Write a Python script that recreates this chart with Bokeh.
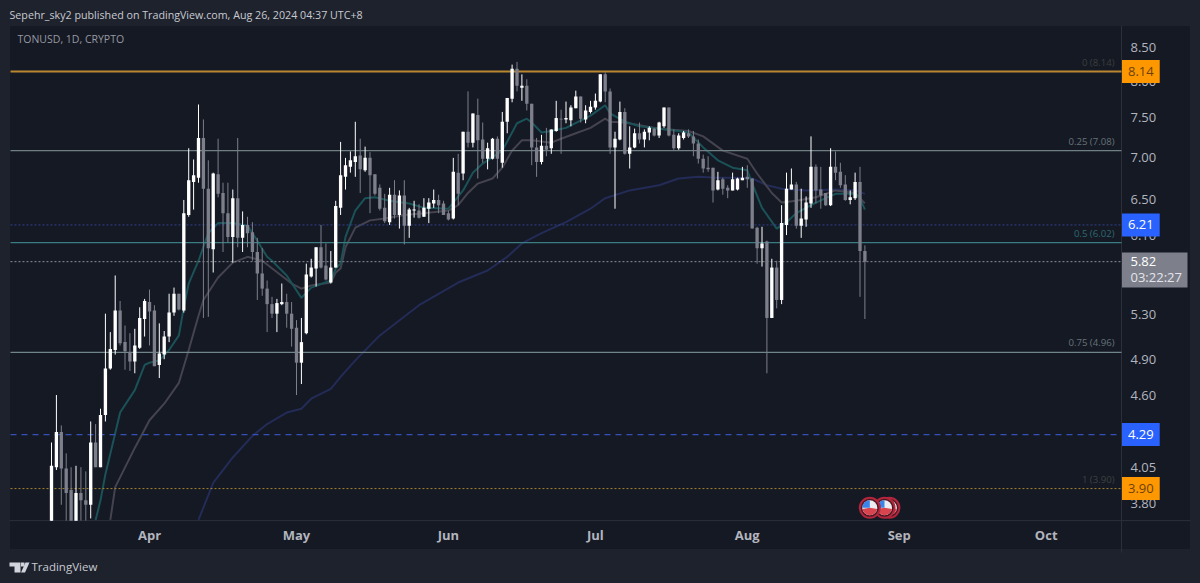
import math
import numpy as np
import pandas as pd
from bokeh.core.properties import value
from bokeh.plotting import figure
from bokeh.models import (BoxAnnotation, ColumnDataSource, FixedTicker, Label, PolyAnnotation, Range1d)
from bokeh.embed import file_html
from bokeh.resources import INLINE

FIRST_DAY = "2024-03-12"
opens = [3.62,4.05,4.31,4.04,3.89,3.62,3.87,3.82,3.79,4.23,4.05,4.44,4.82,4.98,5.34,5.05,4.96,4.88,5.00,5.26,
         5.42,5.34,4.85,4.94,5.10,5.32,5.50,5.34,6.32,6.70,6.75,7.24,6.62,5.95,6.79,6.57,6.34,6.08,6.51,6.07,
         6.21,6.13,5.92,5.70,5.55,5.40,5.31,5.40,5.42,5.31,5.18,4.87,5.13,5.67,5.75,5.97,5.78,5.61,5.76,6.40,
         6.76,6.88,6.94,7.02,6.84,6.99,6.79,6.63,6.40,6.24,6.55,6.32,6.54,6.20,6.37,6.37,6.30,6.39,6.45,6.49,
         6.45,6.34,6.28,6.81,6.80,7.32,7.18,7.54,7.22,6.98,6.98,7.23,6.93,7.45,7.76,8.18,7.91,7.94,7.69,7.12,
         6.94,7.14,7.11,7.33,7.49,7.48,7.47,7.63,7.79,7.48,7.58,7.64,7.72,8.10,7.86,7.12,7.22,7.58,7.04,7.12,
         7.30,7.22,7.31,7.36,7.27,7.39,7.64,7.28,7.11,7.24,7.30,7.26,7.17,6.98,6.87,6.87,6.61,6.73,6.63,6.60,
         6.61,6.72,6.76,6.74,6.18,5.96,6.03,5.27,5.76,5.44,6.21,6.61,6.67,6.20,6.27,6.45,6.88,6.61,6.57,6.43,
         6.88,6.82,6.67,6.49,6.51,6.70,5.93]
closes = [4.06,4.31,4.04,3.87,3.66,3.87,3.82,3.79,4.23,4.05,4.44,4.82,4.99,5.34,5.04,4.97,4.88,5.02,5.27,5.43,
          5.33,4.84,4.95,5.10,5.32,5.50,5.35,6.34,6.72,6.78,7.24,6.62,5.96,6.80,6.56,6.34,6.08,6.51,6.07,6.21,
          6.12,5.92,5.70,5.55,5.40,5.31,5.41,5.42,5.31,5.17,4.87,5.05,5.69,5.76,5.97,5.76,5.64,5.76,6.42,6.78,
          6.90,6.96,7.01,6.85,6.99,6.78,6.56,6.39,6.25,6.55,6.32,6.54,6.20,6.38,6.38,6.29,6.40,6.46,6.49,6.43,
          6.32,6.27,6.82,6.56,7.32,7.18,7.56,7.21,6.98,7.11,7.23,6.98,7.45,7.77,8.18,7.94,7.94,7.69,7.12,6.94,
          7.14,7.09,7.35,7.50,7.48,7.50,7.64,7.79,7.49,7.60,7.65,7.73,8.10,7.86,7.12,7.23,7.58,7.04,7.12,7.30,
          7.22,7.32,7.37,7.27,7.44,7.64,7.27,7.11,7.27,7.31,7.26,7.17,6.98,6.86,6.85,6.60,6.72,6.62,6.60,6.73,
          6.74,6.75,6.73,6.17,5.96,6.01,5.27,5.76,5.44,6.23,6.62,6.67,6.20,6.28,6.46,6.88,6.60,6.54,6.43,6.88,
          6.81,6.66,6.49,6.52,6.70,5.93,5.82]
highs = [4.23,4.60,4.36,4.15,4.05,4.06,4.05,4.02,4.39,4.37,4.49,5.31,5.14,5.68,5.43,5.20,5.13,5.17,5.37,5.45,
         5.54,5.39,5.22,5.15,5.50,5.56,5.50,6.49,7.11,6.97,7.68,7.48,6.96,6.81,7.23,6.69,6.69,6.61,7.24,6.36,
         6.30,6.24,6.07,5.96,5.63,5.47,5.45,5.60,5.50,5.42,5.25,5.27,5.80,5.85,5.97,6.21,6.01,5.93,6.48,7.19,
         6.99,7.07,7.45,7.23,7.13,7.06,6.79,6.67,6.56,6.63,6.72,6.60,6.72,6.40,6.48,6.44,6.51,6.51,6.61,6.55,
         6.48,6.37,6.99,7.04,7.32,7.86,7.56,7.76,7.44,7.18,7.24,7.26,7.58,7.77,8.24,8.28,8.10,8.03,7.69,7.24,
         7.28,7.37,7.35,7.73,7.61,7.72,7.67,7.87,7.79,7.67,7.73,7.83,8.10,8.13,7.90,7.32,7.72,7.63,7.39,7.36,
         7.44,7.35,7.39,7.37,7.45,7.64,7.64,7.35,7.30,7.33,7.35,7.33,7.22,7.03,7.01,6.87,6.82,6.75,6.66,6.81,
         6.75,6.88,6.90,6.74,6.19,6.19,6.04,5.85,5.83,6.43,6.81,6.86,6.70,6.62,6.53,7.26,6.91,6.88,6.57,7.11,
         7.07,6.93,6.78,6.60,6.81,6.88,5.99]
lows = [3.44,4.03,3.79,3.66,3.56,3.56,3.66,3.62,3.70,4.05,4.05,4.39,4.81,4.94,5.02,4.81,4.80,4.78,4.99,5.10,
        5.02,4.84,4.74,4.90,5.05,5.29,5.34,5.32,6.30,6.38,6.69,5.27,5.28,5.71,6.52,5.92,6.02,5.81,5.97,5.92,
        5.97,5.83,5.44,5.48,5.14,5.27,5.14,5.39,5.18,5.01,4.60,4.69,5.12,5.66,5.57,5.75,5.63,5.60,5.76,6.32,
        6.61,6.81,6.76,6.57,6.82,6.34,6.54,6.37,6.23,6.21,6.28,6.17,6.00,6.07,6.29,6.28,6.30,6.23,6.40,6.34,
        6.32,6.26,6.27,6.43,6.72,7.12,7.12,6.74,6.93,6.85,6.97,6.74,6.87,7.30,7.71,7.86,7.73,7.60,6.90,6.76,
        6.91,7.01,7.04,7.32,7.04,7.43,7.39,7.63,7.44,7.43,7.56,7.61,7.71,7.71,7.04,6.39,7.21,7.03,6.86,7.11,
        7.17,7.12,7.21,7.26,7.24,7.37,7.26,7.09,7.09,7.22,7.24,7.01,6.92,6.81,6.82,6.46,6.60,6.55,6.51,6.60,
        6.60,6.72,6.63,6.17,5.80,5.77,4.78,5.27,5.36,5.40,6.10,6.61,6.17,6.07,6.19,6.40,6.45,6.39,6.42,6.42,
        6.72,6.63,6.48,6.44,6.49,5.47,5.26]

teal_days = [9,10,11,13,14,17,19,20,22,24,26,27,28,30,32,34,37,40,42,44,45,48,51,53,57,58,59,60,62,64,66,69,73,76,
             81,82,84,86,88,92,95,97,98,100,102,105,110,113,114,117,120,124,128,130,133,136,139,142,143,145,148,
             150,152,155,158,160,164,165,166]
teal_vals = [3.69,3.82,4.00,4.30,4.46,4.64,4.85,4.87,4.89,4.98,5.11,5.37,5.60,5.83,6.12,6.23,6.23,6.20,6.04,5.87,
             5.83,5.68,5.46,5.56,5.63,5.75,5.80,6.08,6.37,6.51,6.52,6.48,6.45,6.40,6.39,6.46,6.60,6.81,6.92,7.08,
             7.43,7.49,7.44,7.31,7.33,7.37,7.53,7.67,7.56,7.45,7.39,7.36,7.33,7.31,7.12,6.96,6.87,6.84,6.68,6.40,
             6.17,6.24,6.34,6.43,6.51,6.56,6.56,6.51,6.38]
gray_days = [12,13,17,20,23,26,28,30,31,34,37,40,43,49,51,53,57,58,59,60,62,65,68,72,76,81,83,85,87,90,92,94,96,98,
             102,104,107,110,113,114,117,124,130,133,137,142,144,147,149,152,156,160,164,166]
gray_vals = [3.69,3.91,4.19,4.40,4.53,4.70,4.98,5.29,5.44,5.66,5.81,5.87,5.83,5.60,5.55,5.58,5.61,5.71,5.75,5.97,
             6.18,6.26,6.28,6.32,6.34,6.37,6.43,6.57,6.68,6.74,6.87,7.08,7.21,7.21,7.18,7.23,7.30,7.37,7.49,7.45,
             7.44,7.36,7.33,7.26,7.08,6.98,6.80,6.57,6.46,6.48,6.52,6.60,6.57,6.45]
navy_days = [30,33,37,41,44,48,51,53,57,59,62,67,75,83,89,93,96,100,105,110,113,118,124,128,132,136,140,143,146,149,
             154,160,164,166]
navy_vals = [3.69,3.94,4.12,4.28,4.37,4.46,4.49,4.57,4.65,4.75,4.89,5.11,5.39,5.61,5.73,5.87,6.01,6.12,6.24,6.39,
             6.51,6.60,6.66,6.74,6.76,6.75,6.75,6.74,6.66,6.62,6.60,6.61,6.60,6.56]

month_dates = ["2024-04-01","2024-05-01","2024-06-01","2024-07-01","2024-08-01","2024-09-01","2024-10-01"]
month_labels = ["Apr","May","Jun","Jul","Aug","Sep","Oct"]
price_ticks = [8.5,8.0,7.5,7.0,6.5,6.1,5.3,4.9,4.6,4.05,3.8]
price_labels = ["8.50","8.00","7.50","7.00","6.50","6.10","5.30","4.90","4.60","4.05","3.80"]
fib_levels = [8.14,7.08,6.02,4.96,3.90]
fib_texts = ["0 (8.14)","0.25 (7.08)","0.5 (6.02)","0.75 (4.96)","1 (3.90)"]
blue_levels = [6.21,4.29]
last_price = 5.82
countdown = "03:22:27"
event_dates = ["2024-08-30","2024-08-29","2024-08-26"]
event_level = 3.77
title_text = "Sepehr_sky2 published on TradingView.com, Aug 26, 2024 04:37 UTC+8"
symbol_text = "TONUSD, 1D, CRYPTO"
logo_text = "TradingView"

OUTER = "#1e222d"
PANE = "#151924"
EDGE = "#2b2f3b"
AXIS_TXT = "#b2b5be"
FONT = "Open Sans"
PANE_FLOOR = 3.6856

dates = pd.date_range(FIRST_DAY, periods=len(opens), freq="D")
DAY_MS = 86400000


def day(i):
    return dates[0] + pd.Timedelta(days=i)


# the frame fills the whole page; the chart pane is a part of it
p = figure(width=1200, height=583, x_axis_type="datetime", y_axis_type="log",
           x_range=Range1d(day(-10.41), day(234.49)), y_range=Range1d(3.2986, 9.227),
           y_axis_location="right", output_backend="svg", toolbar_location=None,
           min_border_left=0, min_border_right=0, min_border_top=0, min_border_bottom=0,
           background_fill_color=OUTER, border_fill_color=OUTER)
p.grid.visible = False
p.outline_line_color = None
pane_left, pane_right = day(-8.37), day(218.37)

p.add_layout(BoxAnnotation(left=9, right=1190, top=25, bottom=549,
                           left_units="canvas", right_units="canvas",
                           top_units="canvas", bottom_units="canvas",
                           fill_color=PANE, fill_alpha=1, line_color=EDGE, line_width=1,
                           level="underlay"))
p.segment([pane_right], [8.829], [pane_right], [3.484], line_color=EDGE, line_width=1)
p.segment([day(-8.57)], [PANE_FLOOR], [day(232.45)], [PANE_FLOOR], line_color=EDGE, line_width=1)

# axes, pinned to the pane's edges
ticks_ms = [pd.Timestamp(d).value // 10**6 for d in month_dates]
p.xaxis.ticker = FixedTicker(ticks=ticks_ms)
p.xaxis.major_label_overrides = dict(zip(ticks_ms, month_labels))
p.xaxis.fixed_location = PANE_FLOOR
p.xaxis.major_label_text_color = AXIS_TXT
p.xaxis.major_label_text_font = FONT
p.xaxis.major_label_text_font_size = "13px"
p.xaxis.major_label_text_font_style = "bold"
p.xaxis.major_label_standoff = 5
p.xaxis.major_tick_out = 0
p.xaxis.major_tick_in = 0
p.xaxis.axis_line_color = None
p.xaxis.major_tick_line_color = None
p.xaxis.minor_tick_line_color = None

p.yaxis.ticker = FixedTicker(ticks=price_ticks)
p.yaxis.major_label_overrides = dict(zip(price_ticks, price_labels))
p.yaxis.fixed_location = pane_right.value // 10**6
p.yaxis.major_label_text_color = AXIS_TXT
p.yaxis.major_label_text_font = FONT
p.yaxis.major_label_text_font_size = "13px"
p.yaxis.major_label_standoff = 9
p.yaxis.major_tick_out = 0
p.yaxis.major_tick_in = 0
p.yaxis.axis_line_color = None
p.yaxis.major_tick_line_color = None
p.yaxis.minor_tick_line_color = None

# moving averages
p.line([day(i) for i in navy_days], navy_vals, line_color="#232b57", line_width=2)
p.line([day(i) for i in gray_days], gray_vals, line_color="#44434e", line_width=2)
p.line([day(i) for i in teal_days], teal_vals, line_color="#1a5258", line_width=2)

# level lines
for lvl, col, wid, dash in [(fib_levels[1], "#6f8083", 1.2, "solid"),
                            (fib_levels[2], "#3b7c82", 1.2, "solid"),
                            (fib_levels[3], "#6f8587", 1.2, "solid"),
                            (fib_levels[4], "#a5822e", 1, [2, 2]),
                            (fib_levels[0], "#b98730", 2, "solid"),
                            (blue_levels[0], "#31408c", 1, [2, 2]),
                            (blue_levels[1], "#3551b8", 1.2, [6, 5]),
                            (last_price, "#8c8f99", 1, [2, 2])]:
    p.segment([pane_left], [lvl], [pane_right], [lvl], line_color=col, line_width=wid, line_dash=value(dash))

# candles; what lies below the pane's floor is not shown
up = [c >= o for o, c in zip(opens, closes)]
src = ColumnDataSource(dict(x=dates,
                            o=np.maximum(opens, PANE_FLOOR), c=np.maximum(closes, PANE_FLOOR),
                            h=highs, l=np.maximum(lows, PANE_FLOOR),
                            col=["#ffffff" if u else "#7d7f8b" for u in up]))
p.segment("x", "h", "x", "l", source=src, line_color="col", line_width=1)
p.vbar("x", 0.68 * DAY_MS, "o", "c", source=src, fill_color="col", line_color=None)

# event badges
ev_x = [pd.Timestamp(d) for d in event_dates]
for x in ev_x:
    p.scatter([x], [event_level], size=20, fill_color="#4a1722", line_color="#b2263c", line_width=2)
    p.scatter([x], [event_level], size=15, fill_color="#ecebf0", line_color=None)
    p.wedge([x], [event_level], radius=7.5, radius_units="screen", start_angle=math.pi / 2,
            end_angle=math.pi, fill_color="#3a83ea", line_color=None)
    p.wedge([x], [event_level], radius=7.5, radius_units="screen", start_angle=math.pi * 1.05,
            end_angle=math.pi * 1.95, fill_color="#d8454f", line_color=None)

# level captions
for lvl, txt, col in zip(fib_levels, fib_texts, ["#3b3f3d", "#667479", "#2d6a70", "#667479", "#3e4140"]):
    p.add_layout(Label(x=1114, x_units="canvas", y=lvl, y_units="data", text=txt, text_align="right",
                       text_baseline="bottom", text_font=FONT, text_font_size="9.6px", text_color=col,
                       y_offset=3))

# price badges
def badge(val, bg, fg):
    p.add_layout(Label(x=1121.5, x_units="canvas", y=val, y_units="data", text=f"{val:.2f}", text_align="left",
                       text_baseline="middle", text_font=FONT, text_font_size="13px", text_color=fg,
                       background_fill_color=bg, padding=(6, 7)))

badge(fib_levels[0], "#ff9800", "#6b4207")
badge(blue_levels[0], "#2962ff", "#ffffff")
badge(blue_levels[1], "#2962ff", "#ffffff")
badge(fib_levels[4], "#ff9800", "#6b4207")

p.add_layout(BoxAnnotation(left=1121.5, right=1187, top=252, bottom=287, left_units="canvas",
                           right_units="canvas", top_units="canvas", bottom_units="canvas",
                           fill_color="#7d7f8b", fill_alpha=1, line_color=None, level="overlay"))
p.add_layout(Label(x=1130, x_units="canvas", y=last_price, y_units="data", text=f"{last_price:.2f}",
                   text_baseline="middle", text_font=FONT, text_font_size="13px", text_color="#ffffff",
                   level="overlay"))
p.add_layout(Label(x=1130, x_units="canvas", y=276, y_units="canvas", text=countdown,
                   text_baseline="middle", text_font=FONT, text_font_size="13px", text_color="#e4e5ea",
                   level="overlay"))

# page texts
p.add_layout(Label(x=9, y=14, x_units="canvas", y_units="canvas", text=title_text, text_baseline="middle",
                   text_font=FONT, text_font_size="10.7px", text_color="#c8cad0"))
p.add_layout(Label(x=17, y=38, x_units="canvas", y_units="canvas", text=symbol_text, text_baseline="middle",
                   text_font=FONT, text_font_size="10.5px", text_color="#9598a1"))
p.add_layout(Label(x=31, y=566, x_units="canvas", y_units="canvas", text=logo_text, text_baseline="middle",
                   text_font=FONT, text_font_size="11.5px", text_color="#c8cad0"))

# logo
for xs, ys in [([9, 20, 20, 14, 14, 9], [562, 562, 572, 572, 566, 566]),
               ([20.5, 24, 24, 20.5], [562, 562, 566, 566]),
               ([25, 29, 24.5, 20.5], [562, 562, 572, 572])]:
    p.add_layout(PolyAnnotation(xs=xs, ys=ys, xs_units="canvas", ys_units="canvas",
                                fill_color="#d1d4dc", fill_alpha=1, line_color=None))

html = file_html(p, INLINE)
html = html.replace("<head>", f"<head><style>html,body{{background:{OUTER}}}</style>", 1)
open("out.html", "w").write(html)
